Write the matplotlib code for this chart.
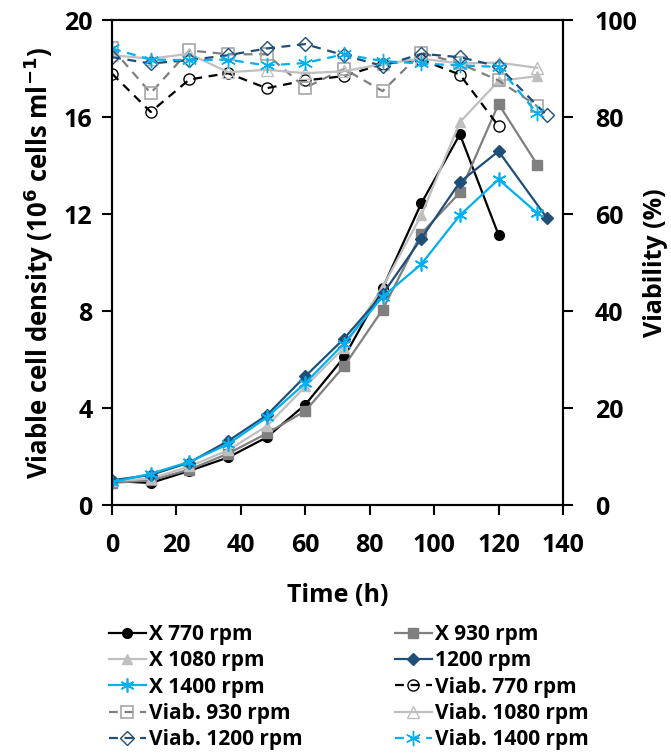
import matplotlib
matplotlib.use('Agg')
import matplotlib.pyplot as plt

plt.rcParams['font.family'] = ['Open Sans', 'DejaVu Sans']
plt.rcParams['font.weight'] = 'bold'
plt.rcParams['mathtext.default'] = 'bf'

# time points (h)
t = [0, 12, 24, 36, 48, 60, 72, 84, 96, 108, 120, 132]
t_770 = t[:11]
t_1200 = [0, 12, 24, 36, 48, 60, 72, 84, 96, 108, 120, 135]

# viable cell density (10^6 cells/ml)
x_770 = [1.0, 0.92, 1.42, 1.97, 2.8, 4.15, 6.1, 8.95, 12.45, 15.3, 11.15]
x_930 = [0.92, 1.03, 1.47, 2.13, 2.96, 3.89, 5.73, 8.07, 11.2, 12.9, 16.55, 14.05]
x_1080 = [1.0, 1.1, 1.6, 2.27, 3.26, 4.9, 6.5, 9.0, 11.96, 15.8, 17.5, 17.7]
x_1200 = [1.03, 1.25, 1.76, 2.65, 3.71, 5.32, 6.87, 8.7, 11.0, 13.33, 14.6, 11.85]
x_1400 = [0.95, 1.3, 1.79, 2.52, 3.62, 5.04, 6.67, 8.6, 9.94, 11.96, 13.44, 12.05]

# viability (%)
v_770 = [89.0, 81.1, 87.8, 89.1, 86.0, 87.6, 88.5, 91.0, 91.9, 88.8, 78.2]
v_930 = [94.2, 85.0, 93.8, 93.0, 93.0, 86.1, 90.0, 85.4, 93.3, 91.1, 87.6, 82.3]
v_1080 = [92.8, 92.1, 93.1, 89.3, 89.8, 89.1, 89.5, 91.0, 92.1, 91.1, 91.3, 90.2]
v_1200 = [92.4, 91.1, 91.8, 92.8, 94.2, 95.1, 92.8, 90.6, 93.1, 92.4, 90.5, 80.4]
v_1400 = [94.2, 91.9, 91.8, 91.9, 90.7, 91.2, 93.0, 91.6, 91.1, 90.7, 90.4, 80.8]

c_black = '#000000'
c_gray = '#7f7f7f'
c_lgray = '#bfbfbf'
c_dblue = '#1f4e79'
c_lblue = '#00b0f0'
star = (6, 2, 0)

fig = plt.figure(figsize=(6.71, 7.53), dpi=100)
ax = fig.add_axes([0.167, 0.329, 0.672, 0.644])
ax2 = ax.twinx()

lw = 1.6
h1, = ax.plot(t_770, x_770, '-o', color=c_black, lw=lw, ms=7, label='X 770 rpm')
h2, = ax.plot(t, x_930, '-s', color=c_gray, lw=lw, ms=7, label='X 930 rpm')
h3, = ax.plot(t, x_1080, '-^', color=c_lgray, lw=lw, ms=7, label='X 1080 rpm')
h4, = ax.plot(t_1200, x_1200, '-D', color=c_dblue, lw=lw, ms=6, label='1200 rpm')
h5, = ax.plot(t, x_1400, '-', marker=star, color=c_lblue, lw=lw, ms=10, mew=1.2, label='X 1400 rpm')

dash = (0, (4, 3))
h6, = ax2.plot(t_770, v_770, linestyle=dash, marker='o', color=c_black, mfc='none', lw=lw, ms=8, mew=1.0, label='Viab. 770 rpm')
h7, = ax2.plot(t, v_930, linestyle=dash, marker='s', color=c_gray, mfc='none', mec='#a6a6a6', lw=lw, ms=8, mew=1.2, label='Viab. 930 rpm')
h8, = ax2.plot(t, v_1080, linestyle='-', marker='^', color=c_lgray, mfc='none', lw=lw, ms=8, mew=1.0, label='Viab. 1080 rpm')
h9, = ax2.plot(t_1200, v_1200, linestyle=dash, marker='D', color=c_dblue, mfc='none', lw=lw, ms=7, mew=1.0, label='Viab. 1200 rpm')
h10, = ax2.plot(t, v_1400, linestyle=dash, marker=star, color=c_lblue, lw=lw, ms=11, mew=1.0, label='Viab. 1400 rpm')

ax.set_xlim(0, 140)
ax.set_ylim(0, 20)
ax2.set_ylim(0, 100)
ax.set_xticks(range(0, 141, 20))
ax.set_yticks(range(0, 21, 4))
ax2.set_yticks(range(0, 101, 20))

for a in (ax, ax2):
    a.tick_params(labelsize=18, width=1.5, length=7, direction='out', pad=7)
    for s in a.spines.values():
        s.set_linewidth(1.5)
ax.tick_params(axis='x', pad=13)
ax2.tick_params(axis='y', pad=16)

ax.set_xlabel('Time (h)', fontsize=18, fontweight='bold', labelpad=18)
ax.set_ylabel('Viable cell density (10$^{6}$ cells ml$^{-1}$)',
              fontsize=18.5, fontweight='bold', labelpad=6)
ax2.set_ylabel('Viability (%)', fontsize=18, fontweight='bold', labelpad=4)

handles = [h1, h3, h5, h7, h9, h2, h4, h6, h8, h10]
fig.legend(handles=handles, labels=[h.get_label() for h in handles],
           loc='upper left', bbox_to_anchor=(0.162, 0.171), ncol=2,
           frameon=False, fontsize=15, handlelength=1.8, handletextpad=0.15,
           labelspacing=0.25, columnspacing=4.4, borderaxespad=0, borderpad=0)

fig.savefig('out.png', dpi=100)
